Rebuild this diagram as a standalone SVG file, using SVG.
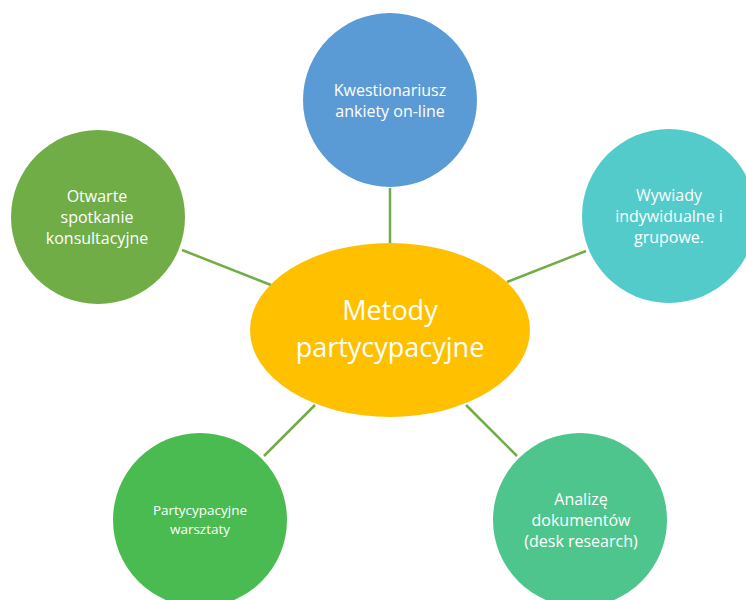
<svg xmlns="http://www.w3.org/2000/svg" width="746" height="600" viewBox="0 0 746 600">
<style>
.conn line{stroke:#70AD47;stroke-width:2.5}
text{font-family:"Open Sans","Noto Sans",sans-serif;fill:#FFFFFF;text-anchor:middle}
.t{font-size:16px}
.s{font-size:13.5px}
.c{font-size:27px}
</style>
<rect width="746" height="600" fill="#FFFFFF"/>
<g id="connectors" class="conn">
<line x1="390" y1="188" x2="390" y2="244"/>
<line x1="182" y1="250" x2="271" y2="285"/>
<line x1="507" y1="282" x2="586" y2="251"/>
<line x1="315" y1="405" x2="264" y2="456"/>
<line x1="466" y1="405" x2="517" y2="456"/>
</g>
<g id="center">
<ellipse cx="390" cy="330" rx="140" ry="87" fill="#FFC000"/>
<text class="c" x="390" y="320">Metody</text>
<text class="c" x="390" y="357">partycypacyjne</text>
</g>
<g id="n-top">
<circle cx="390" cy="100" r="87" fill="#5B9BD5"/>
<text class="t" x="390" y="96">Kwestionariusz</text>
<text class="t" x="390" y="117">ankiety on-line</text>
</g>
<g id="n-left">
<circle cx="98" cy="217" r="87" fill="#70AD47"/>
<text class="t" x="97" y="202">Otwarte</text>
<text class="t" x="97" y="223">spotkanie</text>
<text class="t" x="97" y="244">konsultacyjne</text>
</g>
<g id="n-right">
<circle cx="669" cy="216" r="87" fill="#53CBCB"/>
<text class="t" x="669" y="201">Wywiady</text>
<text class="t" x="669" y="222">indywidualne i</text>
<text class="t" x="669" y="243">grupowe.</text>
</g>
<g id="n-bottom-left">
<circle cx="200" cy="520" r="87" fill="#4ABB51"/>
<text class="s" x="200" y="515">Partycypacyjne</text>
<text class="s" x="200" y="534">warsztaty</text>
</g>
<g id="n-bottom-right">
<circle cx="580" cy="520" r="87" fill="#4FC58E"/>
<text class="t" x="581" y="505">Analizę</text>
<text class="t" x="581" y="526">dokumentów</text>
<text class="t" x="581" y="547">(desk research)</text>
</g>
</svg>
